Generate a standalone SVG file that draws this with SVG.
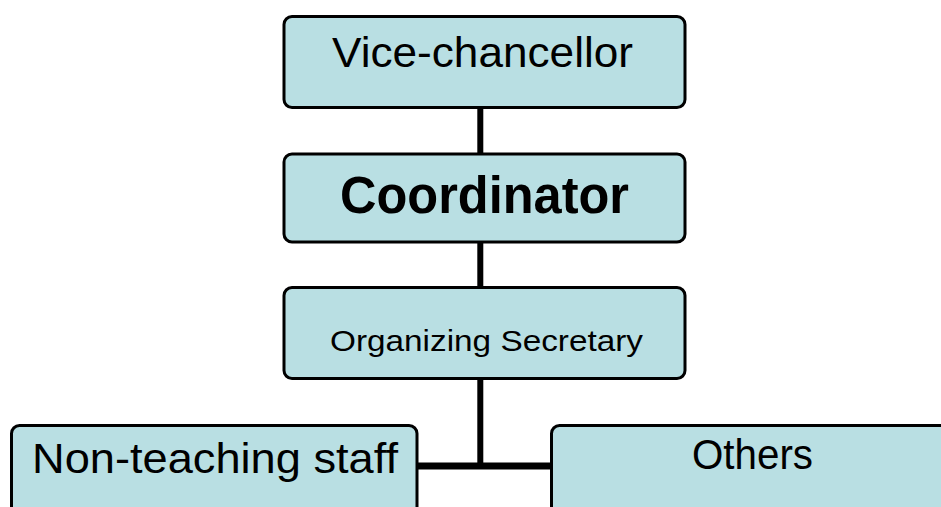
<svg xmlns="http://www.w3.org/2000/svg" width="941" height="507" viewBox="0 0 941 507">
<style>
.box{fill:#B9DFE3;stroke:#000;stroke-width:3}
.t{font-family:"Liberation Sans","Noto Sans",sans-serif;fill:#000;text-anchor:middle}
.con{stroke:#000;fill:none}
</style>
<rect width="941" height="507" fill="#fff"/>
<g id="connectors">
<line class="con" x1="480.3" y1="107" x2="480.3" y2="155" stroke-width="6"/>
<line class="con" x1="480.3" y1="241" x2="480.3" y2="288" stroke-width="6"/>
<line class="con" x1="480.3" y1="379" x2="480.3" y2="466" stroke-width="6"/>
<line class="con" x1="417" y1="466" x2="552" y2="466" stroke-width="7"/>
</g>
<g id="vice-chancellor">
<rect class="box" x="284" y="16.5" width="401" height="91" rx="8"/>
<text class="t" x="482.5" y="67" font-size="42" textLength="301" lengthAdjust="spacingAndGlyphs">Vice-chancellor</text>
</g>
<g id="coordinator">
<rect class="box" x="284" y="154" width="401" height="88" rx="8"/>
<text class="t" x="484.5" y="212.5" font-size="51" font-weight="bold" textLength="289" lengthAdjust="spacingAndGlyphs">Coordinator</text>
</g>
<g id="organizing-secretary">
<rect class="box" x="284" y="287.5" width="401" height="91" rx="8"/>
<text class="t" x="486.5" y="350.5" font-size="30" textLength="313" lengthAdjust="spacingAndGlyphs">Organizing Secretary</text>
</g>
<g id="non-teaching-staff">
<rect class="box" x="11.5" y="425.5" width="405.5" height="110" rx="8"/>
<text class="t" x="215" y="473.3" font-size="42" textLength="366" lengthAdjust="spacingAndGlyphs">Non-teaching staff</text>
</g>
<g id="others">
<rect class="box" x="551.5" y="425.5" width="410" height="110" rx="8"/>
<text class="t" x="752.5" y="469.3" font-size="42" textLength="121" lengthAdjust="spacingAndGlyphs">Others</text>
</g>
</svg>
